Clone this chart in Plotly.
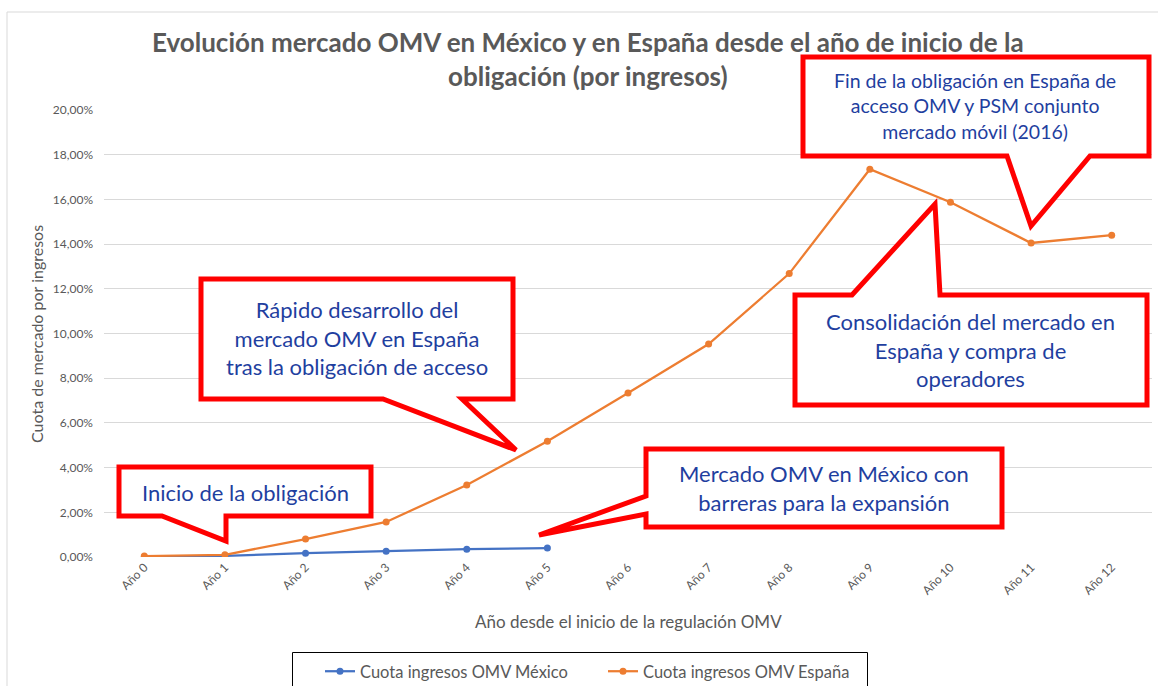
import plotly.graph_objects as go

# ---- data ----
categories = ["Año 0", "Año 1", "Año 2", "Año 3", "Año 4", "Año 5", "Año 6",
              "Año 7", "Año 8", "Año 9", "Año 10", "Año 11", "Año 12"]
mexico = [0.0000, 0.0005, 0.0017, 0.0026, 0.0035, 0.0040]
espana = [0.0004, 0.0010, 0.0080, 0.0157, 0.0322, 0.0518, 0.0734,
          0.0953, 0.1268, 0.1735, 0.1587, 0.1405, 0.1440]
series_names = ["Cuota ingresos OMV México", "Cuota ingresos OMV España"]

title_text = ("Evolución mercado OMV en México y en España desde el año de inicio de la"
              "<br>obligación (por ingresos)")
x_title = "Año desde el inicio de la regulación OMV"
y_title = "Cuota de mercado por ingresos"

# ---- layout geometry (pixels) ----
W, H = 1158, 686
L, R, T, B = 104, 6, 110, 129
PW, PH = W - L - R, H - T - B


def px(x):
    return (x - L) / PW


def py(y):
    return (H - B - y) / PH


BLUE = "#4472C4"
ORANGE = "#ED7D31"
GRAY = "#595959"
RED = "#FF0000"
NAVY = "#1F3F9F"
FONT = "Lato"

fig = go.Figure()
fig.add_trace(go.Scatter(x=categories[:len(mexico)], y=mexico, mode="lines+markers",
                         name=series_names[0],
                         line=dict(color=BLUE, width=2.25),
                         marker=dict(color=BLUE, size=7)))
fig.add_trace(go.Scatter(x=categories, y=espana, mode="lines+markers",
                         name=series_names[1],
                         line=dict(color=ORANGE, width=2.25),
                         marker=dict(color=ORANGE, size=7)))

shapes = []
# chart border
shapes.append(dict(type="rect", xref="paper", yref="paper",
                   x0=px(7), x1=px(1162), y0=py(12), y1=py(692),
                   line=dict(color="#D9D9D9", width=1), layer="below"))
# legend box
shapes.append(dict(type="rect", xref="paper", yref="paper",
                   x0=px(292.5), x1=px(867.5), y0=py(652.5), y1=py(700),
                   line=dict(color="black", width=1), layer="below"))


def callout(points, sw=5):
    # points: outer pixel polygon
    path = "M " + " L ".join(f"{px(x):.5f},{py(y):.5f}" for x, y in points) + " Z"
    shapes.append(dict(type="path", xref="paper", yref="paper", path=path,
                       fillcolor="white", line=dict(color=RED, width=sw),
                       layer="above"))


# Inicio de la obligación
callout([(119, 467), (371, 467), (371, 516), (226, 516), (226, 541),
         (162, 516), (119, 516)])
# Rápido desarrollo
callout([(201, 279), (513, 279), (513, 399), (462, 399), (516, 450),
         (383, 399), (201, 399)])
# Mercado OMV en México
callout([(646, 449), (1002, 449), (1002, 527), (646, 527), (646, 514),
         (539, 535), (646, 496)])
# Fin de la obligación
callout([(803, 57), (1149, 57), (1149, 156), (1090, 156), (1031, 226),
         (1007, 156), (803, 156)])
# Consolidación
callout([(795, 295), (852, 295), (935, 204), (940, 295), (1147, 295),
         (1147, 405), (795, 405)])

annotations = []


def text(xc, yc, t, size=22, color=NAVY, angle=0):
    annotations.append(dict(x=px(xc), y=py(yc), xref="paper", yref="paper",
                            text=t, showarrow=False, xanchor="center",
                            yanchor="middle", textangle=angle,
                            font=dict(family=FONT, size=size, color=color),
                            align="center"))


text(245, 492, "Inicio de la obligación")
text(357, 338, "Rápido desarrollo del<br>mercado OMV en España<br>tras la obligación de acceso")
text(824, 488, "Mercado OMV en México con<br>barreras para la expansión")
text(975, 106, "Fin de la obligación en España de<br>acceso OMV y PSM conjunto<br>mercado móvil (2016)", size=19.5)
text(970, 350, "Consolidación del mercado en<br>España y compra de<br>operadores")

# title
annotations.append(dict(x=px(588), y=py(59), xref="paper", yref="paper",
                        text="<b>" + title_text.replace("<br>", "</b><br><b>") + "</b>",
                        showarrow=False, xanchor="center", yanchor="middle",
                        font=dict(family=FONT, size=26, color=GRAY), align="center"))
# axis titles
text(628, 621, x_title, size=17, color=GRAY)
text(36, 334, y_title, size=16, color=GRAY, angle=-90)

fig.update_layout(
    width=W, height=H,
    margin=dict(l=L, r=R, t=T, b=B, autoexpand=False),
    paper_bgcolor="white", plot_bgcolor="white",
    separators=",.",
    font=dict(family=FONT, color=GRAY),
    showlegend=True,
    legend=dict(orientation="h", x=px(320), y=py(654), xanchor="left", yanchor="top",
                borderwidth=0, bgcolor="rgba(0,0,0,0)",
                font=dict(family=FONT, size=16.5, color=GRAY),
                entrywidth=238, itemwidth=30),
    shapes=shapes,
    annotations=annotations,
)
fig.update_xaxes(type="category", range=[-0.5, 12.5], showgrid=False,
                 showline=False, zeroline=False, ticks="", tickangle=-45,
                 tickfont=dict(family=FONT, size=12, color=GRAY))
fig.update_yaxes(range=[0, 0.20], dtick=0.02, tickformat=".2%",
                 showgrid=True, gridcolor="#D9D9D9", gridwidth=1,
                 zeroline=False, showline=False, ticks="",
                 ticklabelstandoff=10,
                 tickfont=dict(family=FONT, size=12, color=GRAY))

fig.write_html("out.html", config={"displayModeBar": False},
               post_script="document.body.style.margin='0px';")
